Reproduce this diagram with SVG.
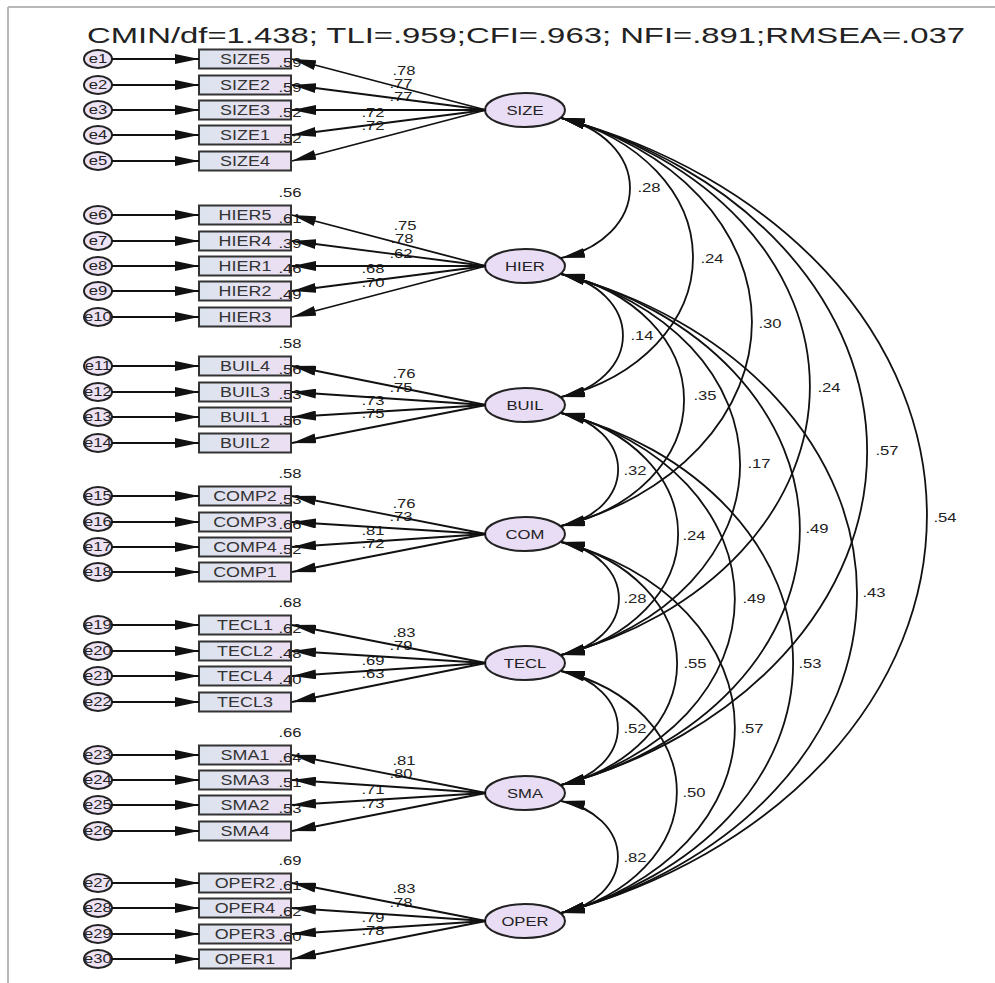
<svg xmlns="http://www.w3.org/2000/svg" width="995" height="983" viewBox="0 0 995 983">
<defs>
<linearGradient id="bg" x1="0" y1="0" x2="1" y2="0">
<stop offset="0" stop-color="#dce4ee"/>
<stop offset="1" stop-color="#ecdff3"/>
</linearGradient>
<marker id="ah" viewBox="0 0 24 10" refX="24" refY="5" markerWidth="24" markerHeight="10" markerUnits="userSpaceOnUse" orient="auto-start-reverse">
<path d="M0,0 L24,5 L0,10 z" fill="#111"/>
</marker>
<style>
.t{font-family:"Liberation Sans",Arial,sans-serif;fill:#222;text-anchor:middle;transform-box:fill-box;transform-origin:center;transform:scaleX(1.28)}
.bt{font-size:14px;fill:#333}
.lt{font-size:13px}
.et{font-size:13px}
.lb{font-size:13px}
.title{font-family:"Liberation Sans",Arial,sans-serif;font-size:22px;fill:#222}
.box{fill:url(#bg);stroke:#333;stroke-width:2}
.lat{fill:#e9ddf5;stroke:#222;stroke-width:2}
.err{fill:#ede3f5;stroke:#222;stroke-width:2}
.frame{stroke:#b8b8b8;stroke-width:2}
#connectors line,#connectors path{stroke:#111;stroke-width:1.8;fill:none}
#connectors line{marker-end:url(#ah)}
#connectors path{marker-start:url(#ah);marker-end:url(#ah)}
</style>
</defs>
<rect width="995" height="983" fill="#fff"/>
<line class="frame" x1="8" y1="7" x2="995" y2="7"/>
<line class="frame" x1="8" y1="7" x2="8" y2="983"/>
<text class="title" x="87" y="43" textLength="878" lengthAdjust="spacingAndGlyphs">CMIN/df=1.438; TLI=.959;CFI=.963; NFI=.891;RMSEA=.037</text>

<!-- latent nodes -->
<g id="SIZE"><ellipse class="lat" cx="525" cy="110" rx="40" ry="17"/><text class="t lt" x="525" y="115">SIZE</text></g>
<g id="HIER"><ellipse class="lat" cx="525" cy="266" rx="40" ry="17"/><text class="t lt" x="525" y="271">HIER</text></g>
<g id="BUIL"><ellipse class="lat" cx="525" cy="405" rx="40" ry="17"/><text class="t lt" x="525" y="410">BUIL</text></g>
<g id="COM"><ellipse class="lat" cx="525" cy="534" rx="40" ry="17"/><text class="t lt" x="525" y="539">COM</text></g>
<g id="TECL"><ellipse class="lat" cx="525" cy="663" rx="40" ry="17"/><text class="t lt" x="525" y="668">TECL</text></g>
<g id="SMA"><ellipse class="lat" cx="525" cy="793" rx="40" ry="17"/><text class="t lt" x="525" y="798">SMA</text></g>
<g id="OPER"><ellipse class="lat" cx="525" cy="921" rx="40" ry="17"/><text class="t lt" x="525" y="926">OPER</text></g>

<!-- observed boxes -->
<g id="SIZE5"><rect class="box" x="199" y="49.5" width="92" height="19"/><text class="t bt" x="245" y="64">SIZE5</text></g>
<g id="SIZE2"><rect class="box" x="199" y="75.5" width="92" height="19"/><text class="t bt" x="245" y="90">SIZE2</text></g>
<g id="SIZE3"><rect class="box" x="199" y="100.5" width="92" height="19"/><text class="t bt" x="245" y="115">SIZE3</text></g>
<g id="SIZE1"><rect class="box" x="199" y="125.5" width="92" height="19"/><text class="t bt" x="245" y="140">SIZE1</text></g>
<g id="SIZE4"><rect class="box" x="199" y="151.5" width="92" height="19"/><text class="t bt" x="245" y="166">SIZE4</text></g>

<g id="HIER5"><rect class="box" x="199" y="205.5" width="92" height="19"/><text class="t bt" x="245" y="220">HIER5</text></g>
<g id="HIER4"><rect class="box" x="199" y="231.5" width="92" height="19"/><text class="t bt" x="245" y="246">HIER4</text></g>
<g id="HIER1"><rect class="box" x="199" y="256.5" width="92" height="19"/><text class="t bt" x="245" y="271">HIER1</text></g>
<g id="HIER2"><rect class="box" x="199" y="281.5" width="92" height="19"/><text class="t bt" x="245" y="296">HIER2</text></g>
<g id="HIER3"><rect class="box" x="199" y="307.5" width="92" height="19"/><text class="t bt" x="245" y="322">HIER3</text></g>

<g id="BUIL4"><rect class="box" x="199" y="356.5" width="92" height="19"/><text class="t bt" x="245" y="371">BUIL4</text></g>
<g id="BUIL3"><rect class="box" x="199" y="382.5" width="92" height="19"/><text class="t bt" x="245" y="397">BUIL3</text></g>
<g id="BUIL1"><rect class="box" x="199" y="407.5" width="92" height="19"/><text class="t bt" x="245" y="422">BUIL1</text></g>
<g id="BUIL2"><rect class="box" x="199" y="433.5" width="92" height="19"/><text class="t bt" x="245" y="448">BUIL2</text></g>

<g id="COMP2"><rect class="box" x="199" y="486.5" width="92" height="19"/><text class="t bt" x="245" y="501">COMP2</text></g>
<g id="COMP3"><rect class="box" x="199" y="512.5" width="92" height="19"/><text class="t bt" x="245" y="527">COMP3</text></g>
<g id="COMP4"><rect class="box" x="199" y="537.5" width="92" height="19"/><text class="t bt" x="245" y="552">COMP4</text></g>
<g id="COMP1"><rect class="box" x="199" y="562.5" width="92" height="19"/><text class="t bt" x="245" y="577">COMP1</text></g>

<g id="TECL1"><rect class="box" x="199" y="615.5" width="92" height="19"/><text class="t bt" x="245" y="630">TECL1</text></g>
<g id="TECL2"><rect class="box" x="199" y="641.5" width="92" height="19"/><text class="t bt" x="245" y="656">TECL2</text></g>
<g id="TECL4"><rect class="box" x="199" y="666.5" width="92" height="19"/><text class="t bt" x="245" y="681">TECL4</text></g>
<g id="TECL3"><rect class="box" x="199" y="692.5" width="92" height="19"/><text class="t bt" x="245" y="707">TECL3</text></g>

<g id="SMA1"><rect class="box" x="199" y="745.5" width="92" height="19"/><text class="t bt" x="245" y="760">SMA1</text></g>
<g id="SMA3"><rect class="box" x="199" y="770.5" width="92" height="19"/><text class="t bt" x="245" y="785">SMA3</text></g>
<g id="SMA2"><rect class="box" x="199" y="795.5" width="92" height="19"/><text class="t bt" x="245" y="810">SMA2</text></g>
<g id="SMA4"><rect class="box" x="199" y="821.5" width="92" height="19"/><text class="t bt" x="245" y="836">SMA4</text></g>

<g id="OPER2"><rect class="box" x="199" y="873.5" width="92" height="19"/><text class="t bt" x="245" y="888">OPER2</text></g>
<g id="OPER4"><rect class="box" x="199" y="898.5" width="92" height="19"/><text class="t bt" x="245" y="913">OPER4</text></g>
<g id="OPER3"><rect class="box" x="199" y="924.5" width="92" height="19"/><text class="t bt" x="245" y="939">OPER3</text></g>
<g id="OPER1"><rect class="box" x="199" y="949.5" width="92" height="19"/><text class="t bt" x="245" y="964">OPER1</text></g>

<!-- error nodes -->
<g id="e1"><ellipse class="err" cx="98" cy="59" rx="14" ry="9"/><text class="t et" x="98" y="63.5">e1</text></g>
<g id="e2"><ellipse class="err" cx="98" cy="85" rx="14" ry="9"/><text class="t et" x="98" y="89.5">e2</text></g>
<g id="e3"><ellipse class="err" cx="98" cy="110" rx="14" ry="9"/><text class="t et" x="98" y="114.5">e3</text></g>
<g id="e4"><ellipse class="err" cx="98" cy="135" rx="14" ry="9"/><text class="t et" x="98" y="139.5">e4</text></g>
<g id="e5"><ellipse class="err" cx="98" cy="161" rx="14" ry="9"/><text class="t et" x="98" y="165.5">e5</text></g>
<g id="e6"><ellipse class="err" cx="98" cy="215" rx="14" ry="9"/><text class="t et" x="98" y="219.5">e6</text></g>
<g id="e7"><ellipse class="err" cx="98" cy="241" rx="14" ry="9"/><text class="t et" x="98" y="245.5">e7</text></g>
<g id="e8"><ellipse class="err" cx="98" cy="266" rx="14" ry="9"/><text class="t et" x="98" y="270.5">e8</text></g>
<g id="e9"><ellipse class="err" cx="98" cy="291" rx="14" ry="9"/><text class="t et" x="98" y="295.5">e9</text></g>
<g id="e10"><ellipse class="err" cx="98" cy="317" rx="14" ry="9"/><text class="t et" x="98" y="321.5">e10</text></g>
<g id="e11"><ellipse class="err" cx="98" cy="366" rx="14" ry="9"/><text class="t et" x="98" y="370.5">e11</text></g>
<g id="e12"><ellipse class="err" cx="98" cy="392" rx="14" ry="9"/><text class="t et" x="98" y="396.5">e12</text></g>
<g id="e13"><ellipse class="err" cx="98" cy="417" rx="14" ry="9"/><text class="t et" x="98" y="421.5">e13</text></g>
<g id="e14"><ellipse class="err" cx="98" cy="443" rx="14" ry="9"/><text class="t et" x="98" y="447.5">e14</text></g>
<g id="e15"><ellipse class="err" cx="98" cy="496" rx="14" ry="9"/><text class="t et" x="98" y="500.5">e15</text></g>
<g id="e16"><ellipse class="err" cx="98" cy="522" rx="14" ry="9"/><text class="t et" x="98" y="526.5">e16</text></g>
<g id="e17"><ellipse class="err" cx="98" cy="547" rx="14" ry="9"/><text class="t et" x="98" y="551.5">e17</text></g>
<g id="e18"><ellipse class="err" cx="98" cy="572" rx="14" ry="9"/><text class="t et" x="98" y="576.5">e18</text></g>
<g id="e19"><ellipse class="err" cx="98" cy="625" rx="14" ry="9"/><text class="t et" x="98" y="629.5">e19</text></g>
<g id="e20"><ellipse class="err" cx="98" cy="651" rx="14" ry="9"/><text class="t et" x="98" y="655.5">e20</text></g>
<g id="e21"><ellipse class="err" cx="98" cy="676" rx="14" ry="9"/><text class="t et" x="98" y="680.5">e21</text></g>
<g id="e22"><ellipse class="err" cx="98" cy="702" rx="14" ry="9"/><text class="t et" x="98" y="706.5">e22</text></g>
<g id="e23"><ellipse class="err" cx="98" cy="755" rx="14" ry="9"/><text class="t et" x="98" y="759.5">e23</text></g>
<g id="e24"><ellipse class="err" cx="98" cy="780" rx="14" ry="9"/><text class="t et" x="98" y="784.5">e24</text></g>
<g id="e25"><ellipse class="err" cx="98" cy="805" rx="14" ry="9"/><text class="t et" x="98" y="809.5">e25</text></g>
<g id="e26"><ellipse class="err" cx="98" cy="831" rx="14" ry="9"/><text class="t et" x="98" y="835.5">e26</text></g>
<g id="e27"><ellipse class="err" cx="98" cy="883" rx="14" ry="9"/><text class="t et" x="98" y="887.5">e27</text></g>
<g id="e28"><ellipse class="err" cx="98" cy="908" rx="14" ry="9"/><text class="t et" x="98" y="912.5">e28</text></g>
<g id="e29"><ellipse class="err" cx="98" cy="934" rx="14" ry="9"/><text class="t et" x="98" y="938.5">e29</text></g>
<g id="e30"><ellipse class="err" cx="98" cy="959" rx="14" ry="9"/><text class="t et" x="98" y="963.5">e30</text></g>

<!-- R-squared labels -->
<g id="r2">
<text class="t lb" x="290" y="67">.59</text>
<text class="t lb" x="290" y="92">.59</text>
<text class="t lb" x="290" y="117">.52</text>
<text class="t lb" x="290" y="143">.52</text>
<text class="t lb" x="290" y="197">.56</text>
<text class="t lb" x="290" y="223">.61</text>
<text class="t lb" x="290" y="248">.39</text>
<text class="t lb" x="290" y="273">.46</text>
<text class="t lb" x="290" y="299">.49</text>
<text class="t lb" x="290" y="348">.58</text>
<text class="t lb" x="290" y="374">.56</text>
<text class="t lb" x="290" y="399">.53</text>
<text class="t lb" x="290" y="425">.56</text>
<text class="t lb" x="290" y="478">.58</text>
<text class="t lb" x="290" y="504">.53</text>
<text class="t lb" x="290" y="529">.66</text>
<text class="t lb" x="290" y="554">.52</text>
<text class="t lb" x="290" y="607">.68</text>
<text class="t lb" x="290" y="633">.62</text>
<text class="t lb" x="290" y="658">.48</text>
<text class="t lb" x="290" y="684">.40</text>
<text class="t lb" x="290" y="737">.66</text>
<text class="t lb" x="290" y="762">.64</text>
<text class="t lb" x="290" y="787">.51</text>
<text class="t lb" x="290" y="813">.53</text>
<text class="t lb" x="290" y="865">.69</text>
<text class="t lb" x="290" y="890">.61</text>
<text class="t lb" x="290" y="916">.62</text>
<text class="t lb" x="290" y="941">.60</text>
</g>

<!-- loading labels -->
<g id="loadings">
<text class="t lb" x="404" y="75">.78</text>
<text class="t lb" x="401" y="88">.77</text>
<text class="t lb" x="401" y="101">.77</text>
<text class="t lb" x="373" y="117">.72</text>
<text class="t lb" x="373" y="130">.72</text>
<text class="t lb" x="405" y="230">.75</text>
<text class="t lb" x="402" y="243">.78</text>
<text class="t lb" x="401" y="258">.62</text>
<text class="t lb" x="373" y="273">.68</text>
<text class="t lb" x="373" y="287">.70</text>
<text class="t lb" x="404" y="378">.76</text>
<text class="t lb" x="401" y="392">.75</text>
<text class="t lb" x="373" y="405">.73</text>
<text class="t lb" x="373" y="418">.75</text>
<text class="t lb" x="404" y="508">.76</text>
<text class="t lb" x="401" y="521">.73</text>
<text class="t lb" x="373" y="535">.81</text>
<text class="t lb" x="373" y="548">.72</text>
<text class="t lb" x="404" y="637">.83</text>
<text class="t lb" x="401" y="650">.79</text>
<text class="t lb" x="373" y="665">.69</text>
<text class="t lb" x="373" y="678">.63</text>
<text class="t lb" x="404" y="765">.81</text>
<text class="t lb" x="401" y="778">.80</text>
<text class="t lb" x="373" y="794">.71</text>
<text class="t lb" x="373" y="808">.73</text>
<text class="t lb" x="404" y="893">.83</text>
<text class="t lb" x="401" y="907">.78</text>
<text class="t lb" x="373" y="922">.79</text>
<text class="t lb" x="373" y="935">.78</text>
</g>

<!-- covariance labels -->
<g id="covlabels">
<text class="t lb" x="649" y="192">.28</text>
<text class="t lb" x="712" y="263">.24</text>
<text class="t lb" x="770" y="328">.30</text>
<text class="t lb" x="829" y="392">.24</text>
<text class="t lb" x="887" y="455">.57</text>
<text class="t lb" x="945" y="522">.54</text>
<text class="t lb" x="642" y="340">.14</text>
<text class="t lb" x="705" y="400">.35</text>
<text class="t lb" x="759" y="468">.17</text>
<text class="t lb" x="817" y="533">.49</text>
<text class="t lb" x="874" y="597">.43</text>
<text class="t lb" x="635" y="475">.32</text>
<text class="t lb" x="694" y="540">.24</text>
<text class="t lb" x="754" y="603">.49</text>
<text class="t lb" x="810" y="668">.53</text>
<text class="t lb" x="635" y="603">.28</text>
<text class="t lb" x="695" y="668">.55</text>
<text class="t lb" x="752" y="733">.57</text>
<text class="t lb" x="635" y="733">.52</text>
<text class="t lb" x="694" y="797">.50</text>
<text class="t lb" x="635" y="862">.82</text>
</g>

<g id="connectors">
<!-- error arrows -->
<line x1="112" y1="59" x2="199" y2="59"/>
<line x1="112" y1="85" x2="199" y2="85"/>
<line x1="112" y1="110" x2="199" y2="110"/>
<line x1="112" y1="135" x2="199" y2="135"/>
<line x1="112" y1="161" x2="199" y2="161"/>
<line x1="112" y1="215" x2="199" y2="215"/>
<line x1="112" y1="241" x2="199" y2="241"/>
<line x1="112" y1="266" x2="199" y2="266"/>
<line x1="112" y1="291" x2="199" y2="291"/>
<line x1="112" y1="317" x2="199" y2="317"/>
<line x1="112" y1="366" x2="199" y2="366"/>
<line x1="112" y1="392" x2="199" y2="392"/>
<line x1="112" y1="417" x2="199" y2="417"/>
<line x1="112" y1="443" x2="199" y2="443"/>
<line x1="112" y1="496" x2="199" y2="496"/>
<line x1="112" y1="522" x2="199" y2="522"/>
<line x1="112" y1="547" x2="199" y2="547"/>
<line x1="112" y1="572" x2="199" y2="572"/>
<line x1="112" y1="625" x2="199" y2="625"/>
<line x1="112" y1="651" x2="199" y2="651"/>
<line x1="112" y1="676" x2="199" y2="676"/>
<line x1="112" y1="702" x2="199" y2="702"/>
<line x1="112" y1="755" x2="199" y2="755"/>
<line x1="112" y1="780" x2="199" y2="780"/>
<line x1="112" y1="805" x2="199" y2="805"/>
<line x1="112" y1="831" x2="199" y2="831"/>
<line x1="112" y1="883" x2="199" y2="883"/>
<line x1="112" y1="908" x2="199" y2="908"/>
<line x1="112" y1="934" x2="199" y2="934"/>
<line x1="112" y1="959" x2="199" y2="959"/>
<!-- loading arrows -->
<line x1="486" y1="110" x2="292" y2="59"/>
<line x1="486" y1="110" x2="292" y2="85"/>
<line x1="486" y1="110" x2="292" y2="110"/>
<line x1="486" y1="110" x2="292" y2="135"/>
<line x1="486" y1="110" x2="292" y2="161"/>
<line x1="486" y1="266" x2="292" y2="215"/>
<line x1="486" y1="266" x2="292" y2="241"/>
<line x1="486" y1="266" x2="292" y2="266"/>
<line x1="486" y1="266" x2="292" y2="291"/>
<line x1="486" y1="266" x2="292" y2="317"/>
<line x1="486" y1="405" x2="292" y2="366"/>
<line x1="486" y1="405" x2="292" y2="392"/>
<line x1="486" y1="405" x2="292" y2="417"/>
<line x1="486" y1="405" x2="292" y2="443"/>
<line x1="486" y1="534" x2="292" y2="496"/>
<line x1="486" y1="534" x2="292" y2="522"/>
<line x1="486" y1="534" x2="292" y2="547"/>
<line x1="486" y1="534" x2="292" y2="572"/>
<line x1="486" y1="663" x2="292" y2="625"/>
<line x1="486" y1="663" x2="292" y2="651"/>
<line x1="486" y1="663" x2="292" y2="676"/>
<line x1="486" y1="663" x2="292" y2="702"/>
<line x1="486" y1="793" x2="292" y2="755"/>
<line x1="486" y1="793" x2="292" y2="780"/>
<line x1="486" y1="793" x2="292" y2="805"/>
<line x1="486" y1="793" x2="292" y2="831"/>
<line x1="486" y1="921" x2="292" y2="883"/>
<line x1="486" y1="921" x2="292" y2="908"/>
<line x1="486" y1="921" x2="292" y2="934"/>
<line x1="486" y1="921" x2="292" y2="959"/>
<!-- covariances -->
<path d="M561,118 A94.5,72.7 0 0 1 561,258"/>
<path d="M561,118 A190.6,146.6 0 0 1 561,397"/>
<path d="M561,118 A279.6,215.1 0 0 1 561,526"/>
<path d="M561,118 A369.2,284 0 0 1 561,655"/>
<path d="M561,118 A460.1,353.9 0 0 1 561,785"/>
<path d="M561,118 A547.8,421.4 0 0 1 561,913"/>
<path d="M561,274 A82.5,63.5 0 0 1 561,397"/>
<path d="M561,274 A170.6,131.2 0 0 1 561,526"/>
<path d="M561,274 A260.8,200.6 0 0 1 561,655"/>
<path d="M561,274 A350.3,269.5 0 0 1 561,785"/>
<path d="M561,274 A439.4,338 0 0 1 561,913"/>
<path d="M561,413 A75.8,58.3 0 0 1 561,526"/>
<path d="M561,413 A164.2,126.3 0 0 1 561,655"/>
<path d="M561,413 A255,196.2 0 0 1 561,785"/>
<path d="M561,413 A343.6,264.3 0 0 1 561,913"/>
<path d="M561,542 A75.5,58.1 0 0 1 561,655"/>
<path d="M561,542 A165.5,127.3 0 0 1 561,785"/>
<path d="M561,542 A254.1,195.5 0 0 1 561,913"/>
<path d="M561,671 A76.7,59 0 0 1 561,785"/>
<path d="M561,671 A164.7,126.7 0 0 1 561,913"/>
<path d="M561,801 A75,57.7 0 0 1 561,913"/>
</g>
</svg>
